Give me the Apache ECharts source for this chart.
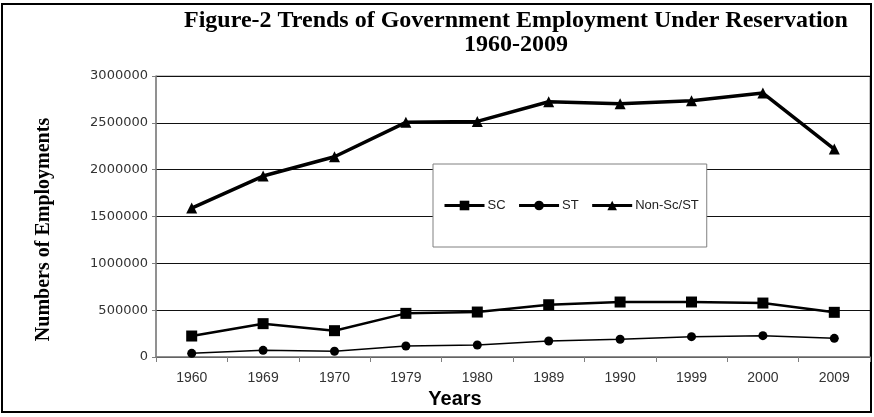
<!DOCTYPE html>
<html>
<head>
<meta charset="utf-8">
<script src="https://cdn.jsdelivr.net/npm/echarts@6/dist/echarts.min.js"></script>
<style>
  html, body { margin: 0; padding: 0; background: #fff; }
  #main { width: 874px; height: 417px; }
</style>
</head>
<body>
<div id="main"></div>
<script>
// 数据
var years = ['1960', '1969', '1970', '1979', '1980', '1989', '1990', '1999', '2000', '2009'];
var sc = [224000, 356000, 281000, 466000, 480000, 558000, 587000, 587000, 576000, 477000];
var st = [39000, 71000, 61000, 117000, 128000, 171000, 189000, 217000, 228000, 199000];
var nonScSt = [1590000, 1932000, 2138000, 2505000, 2515000, 2725000, 2705000, 2736000, 2818000, 2220000];
var yTicks = { min: 0, max: 3000000, step: 500000 };

var myChart = echarts.init(document.getElementById('main'));

var option = {
    backgroundColor: '#fff',
    animation: false,
    title: {
        text: 'Figure-2 Trends of Government Employment Under Reservation\n1960-2009',
        left: 511,
        top: 4,
        textAlign: 'center',
        textStyle: {
            fontFamily: 'Liberation Serif',
            fontWeight: 'bold',
            fontSize: 24,
            lineHeight: 24,
            color: '#000'
        }
    },
    legend: {
        left: 433,
        top: 164,
        padding: [35, 8, 35, 10],
        itemGap: 12,
        itemWidth: 40,
        itemHeight: 12,
        backgroundColor: '#fff',
        borderColor: '#808080',
        borderWidth: 1,
        lineStyle: { width: 3 },
        textStyle: { fontFamily: 'Liberation Sans', fontSize: 13, color: '#222', padding: [0, 0, 0, -2] },
        data: ['SC', 'ST', 'Non-Sc/ST']
    },
    graphic: [{
        type: 'rect',
        shape: { x: 2, y: 4, width: 869, height: 408 },
        style: { fill: null, stroke: '#000', lineWidth: 2 },
        silent: true
    }],
    grid: {
        left: 156,
        right: 4,
        top: 76,
        bottom: 60,
        show: true,
        borderColor: '#8c8c8c',
        borderWidth: 1
    },
    xAxis: {
        type: 'category',
        data: years,
        boundaryGap: true,
        name: 'Years',
        nameLocation: 'middle',
        nameGap: 30,
        nameTextStyle: {
            fontFamily: 'Liberation Sans',
            fontWeight: 'bold',
            fontSize: 20,
            color: '#000',
            padding: [0, 116, 0, 0]
        },
        axisLine: { lineStyle: { color: '#7f7f7f', width: 1.5 } },
        axisTick: { show: true, length: 5, lineStyle: { color: '#7f7f7f' } },
        axisLabel: { fontFamily: 'Liberation Sans', fontSize: 14, color: '#333', margin: 14 }
    },
    yAxis: {
        type: 'value',
        min: yTicks.min,
        max: yTicks.max,
        interval: yTicks.step,
        name: 'Numbers of Employments',
        nameLocation: 'middle',
        nameGap: 102,
        nameTextStyle: {
            fontFamily: 'Liberation Serif',
            fontWeight: 'bold',
            fontSize: 20,
            color: '#000',
            padding: [0, 26, 0, 0]
        },
        axisLine: { show: true, lineStyle: { color: '#7f7f7f', width: 1.5 } },
        axisTick: { show: true, length: 4, lineStyle: { color: '#7f7f7f' } },
        axisLabel: {
            fontFamily: 'DejaVu Sans', fontSize: 13, color: '#333', margin: 8,
            formatter: function (v) { return String(v); }
        },
        splitLine: { lineStyle: { color: '#111', width: 1 } }
    },
    series: [{
        name: 'SC',
        type: 'line',
        data: sc,
        symbol: 'rect',
        symbolSize: 11,
        itemStyle: { color: '#000' },
        lineStyle: { color: '#000', width: 2.5 }
    }, {
        name: 'ST',
        type: 'line',
        data: st,
        symbol: 'circle',
        symbolSize: 9,
        itemStyle: { color: '#000' },
        lineStyle: { color: '#000', width: 1.5 }
    }, {
        name: 'Non-Sc/ST',
        type: 'line',
        data: nonScSt,
        symbol: 'triangle',
        symbolSize: 11,
        itemStyle: { color: '#000' },
        lineStyle: { color: '#000', width: 3.5 }
    }]
};

myChart.setOption(option);
</script>
</body>
</html>
